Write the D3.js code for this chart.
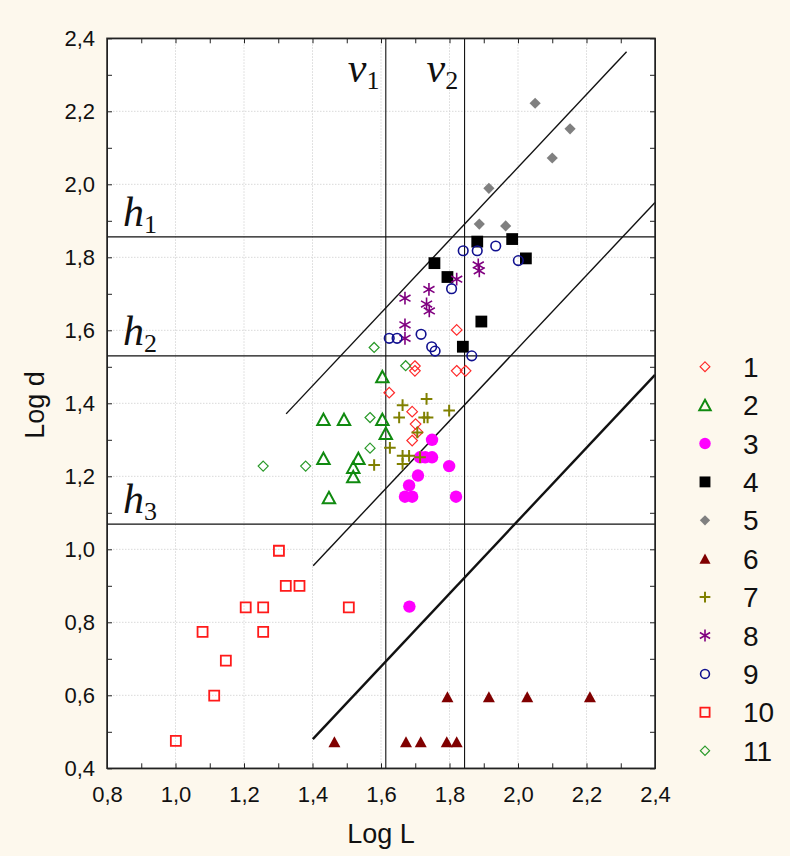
<!DOCTYPE html>
<html>
<head>
<meta charset="utf-8">
<script src="https://cdn.jsdelivr.net/npm/d3@7"></script>
<style>
  html, body { margin: 0; padding: 0; background: #fdf8ed; }
  svg { display: block; }
  text { font-family: "Liberation Sans", Arial, sans-serif; fill: #111; }
</style>
</head>
<body>
<svg id="chart" width="790" height="856"></svg>
<script>
// ---- data: [Log L, Log d] for each group ----
const s1  = [[1.821,1.601],[1.699,1.502],[1.699,1.489],[1.821,1.489],[1.847,1.489],[1.624,1.429],[1.691,1.377],[1.701,1.343],[1.707,1.321],[1.691,1.298]];
const s2  = [[1.604,1.473],[1.432,1.356],[1.492,1.356],[1.604,1.356],[1.614,1.318],[1.432,1.249],[1.534,1.249],[1.519,1.225],[1.519,1.199],[1.448,1.142]];
const s3  = [[1.749,1.300],[1.714,1.252],[1.729,1.252],[1.749,1.252],[1.799,1.228],[1.708,1.202],[1.682,1.175],[1.670,1.144],[1.691,1.144],[1.819,1.144],[1.683,0.843]];
const s4  = [[1.881,1.843],[1.983,1.850],[2.023,1.797],[1.756,1.784],[1.794,1.746],[1.893,1.624],[1.839,1.555]];
const s5  = [[2.050,2.222],[2.152,2.152],[2.100,2.072],[1.915,1.989],[1.887,1.891],[1.964,1.886]];
const s6  = [[1.464,0.473],[1.673,0.473],[1.716,0.473],[1.792,0.473],[1.821,0.473],[1.794,0.596],[1.915,0.596],[2.027,0.596],[2.210,0.596]];
const s7  = [[1.663,1.395],[1.733,1.412],[1.799,1.380],[1.653,1.361],[1.726,1.361],[1.736,1.361],[1.706,1.320],[1.626,1.278],[1.580,1.231],[1.663,1.256],[1.682,1.256],[1.663,1.234],[1.714,1.252]];
const s8  = [[1.670,1.688],[1.740,1.712],[1.733,1.672],[1.741,1.653],[1.821,1.740],[1.884,1.779],[1.887,1.763],[1.670,1.615],[1.670,1.578]];
const s9  = [[1.840,1.818],[1.881,1.818],[1.935,1.831],[2.001,1.791],[1.806,1.714],[1.624,1.578],[1.647,1.578],[1.717,1.589],[1.748,1.555],[1.758,1.543],[1.865,1.530]];
const s10 = [[1.302,0.996],[1.322,0.900],[1.362,0.900],[1.205,0.841],[1.256,0.841],[1.506,0.841],[1.079,0.774],[1.256,0.774],[1.147,0.695],[1.113,0.599],[1.001,0.475]];
const s11 = [[1.580,1.553],[1.672,1.503],[1.568,1.361],[1.568,1.277],[1.256,1.228],[1.380,1.228]];

const seriesNames = ["1","2","3","4","5","6","7","8","9","10","11"];
const seriesData  = [s1,s2,s3,s4,s5,s6,s7,s8,s9,s10,s11];

// boundary lines
const vLines = [{name:"v", sub:"1", x:1.614}, {name:"v", sub:"2", x:1.844}];
const hLines = [{name:"h", sub:"1", y:1.856}, {name:"h", sub:"2", y:1.530}, {name:"h", sub:"3", y:1.069}];
const diagLines = [
  {from:[1.323,1.371], to:[2.317,2.363], w:1.4},
  {from:[1.402,0.955], to:[2.400,1.950], w:1.4},
  {from:[1.401,0.480], to:[2.400,1.478], w:2.4}
];

const xTicks = [0.8,1.0,1.2,1.4,1.6,1.8,2.0,2.2,2.4];
const yTicks = [0.4,0.6,0.8,1.0,1.2,1.4,1.6,1.8,2.0,2.2,2.4];

// ---- symbol shapes (size = r*r) ----
const shp = {
  circle:  {draw(c,s){const r=Math.sqrt(s); c.moveTo(r,0); c.arc(0,0,r,0,2*Math.PI);}},
  square:  {draw(c,s){const r=Math.sqrt(s); c.rect(-r,-r,2*r,2*r);}},
  diamond: {draw(c,s){const r=Math.sqrt(s); c.moveTo(0,-r); c.lineTo(r,0); c.lineTo(0,r); c.lineTo(-r,0); c.closePath();}},
  triangle:{draw(c,s){const r=Math.sqrt(s), h=r*0.92; c.moveTo(0,-h); c.lineTo(r,h); c.lineTo(-r,h); c.closePath();}},
  plus:    {draw(c,s){const r=Math.sqrt(s); c.moveTo(-r,0); c.lineTo(r,0); c.moveTo(0,-r); c.lineTo(0,r);}},
  asterisk:{draw(c,s){const r=Math.sqrt(s);
    [90,30,150].forEach(a=>{const t=a*Math.PI/180, dx=r*Math.cos(t), dy=r*Math.sin(t); c.moveTo(-dx,-dy); c.lineTo(dx,dy);});}}
};

const styles = [
  {type:shp.diamond,  r:5.3, fill:"none",    stroke:"#ff2a2a", sw:1.2},
  {type:shp.triangle, r:6.2, fill:"none",    stroke:"#108a10", sw:2.0},
  {type:shp.circle,   r:6.2, fill:"#ff00ff", stroke:"none",    sw:0},
  {type:shp.square,   r:5.9, fill:"#000000", stroke:"none",    sw:0},
  {type:shp.diamond,  r:5.6, fill:"#808080", stroke:"none",    sw:0},
  {type:shp.triangle, r:6.0, fill:"#800000", stroke:"none",    sw:0},
  {type:shp.plus,     r:5.8, fill:"none",    stroke:"#808000", sw:2.0},
  {type:shp.asterisk, r:6.4, fill:"none",    stroke:"#800080", sw:1.6},
  {type:shp.circle,   r:4.8, fill:"none",    stroke:"#10108f", sw:1.6},
  {type:shp.square,   r:5.0, fill:"none",    stroke:"#ff1a1a", sw:1.8},
  {type:shp.diamond,  r:5.0, fill:"none",    stroke:"#2a9a2a", sw:1.2}
];

// ---- layout ----
const svg = d3.select("#chart");
const mLeft = 107, mRight = 655, mTop = 38.3, mBottom = 768.3;
const x = d3.scaleLinear().domain([0.8, 2.4]).range([mLeft, mRight]);
const y = d3.scaleLinear().domain([0.4, 2.4]).range([mBottom, mTop]);
const fmt = d => d3.format(".1f")(d).replace(".", ",");

// plot background
svg.append("rect").attr("x", mLeft).attr("y", mTop)
  .attr("width", mRight-mLeft).attr("height", mBottom-mTop).attr("fill", "#ffffff");

// grid
const grid = svg.append("g").attr("stroke", "#d9d9d9").attr("stroke-width", 1).attr("stroke-dasharray", "1.5,1.5");
grid.selectAll(".gx").data(xTicks.slice(1,-1)).join("line")
  .attr("x1", d=>x(d)).attr("x2", d=>x(d)).attr("y1", mTop).attr("y2", mBottom);
grid.selectAll(".gy").data(yTicks.slice(1,-1)).join("line")
  .attr("y1", d=>y(d)).attr("y2", d=>y(d)).attr("x1", mLeft).attr("x2", mRight);

// axes (inward ticks, minor every 0.1)
const minorX = d3.range(0.8, 2.4001, 0.1);
const minorY = d3.range(0.4, 2.4001, 0.1);
function tickOnly(axis){ return axis.tickFormat("").tickSizeInner(-5).tickSizeOuter(0); }
svg.append("g").attr("transform", `translate(0,${mBottom})`).call(tickOnly(d3.axisBottom(x).tickValues(minorX)));
svg.append("g").attr("transform", `translate(0,${mTop})`).call(tickOnly(d3.axisTop(x).tickValues(minorX)));
svg.append("g").attr("transform", `translate(${mLeft},0)`).call(tickOnly(d3.axisLeft(y).tickValues(minorY)));
svg.append("g").attr("transform", `translate(${mRight},0)`).call(tickOnly(d3.axisRight(y).tickValues(minorY)));

const xAxis = svg.append("g").attr("transform", `translate(0,${mBottom})`)
  .call(d3.axisBottom(x).tickValues(xTicks).tickFormat(fmt).tickSize(0).tickPadding(18));
const yAxis = svg.append("g").attr("transform", `translate(${mLeft},0)`)
  .call(d3.axisLeft(y).tickValues(yTicks).tickFormat(fmt).tickSize(0).tickPadding(12));
[xAxis, yAxis].forEach(g => {
  g.select(".domain").remove();
  g.selectAll("text").style("font-size", "22px").attr("fill", "#111");
});
svg.selectAll(".domain").attr("stroke", "#222");
svg.selectAll(".tick line").attr("stroke", "#222");

// reference lines
const ref = svg.append("g").attr("stroke", "#111").attr("fill", "none");
ref.selectAll(".v").data(vLines).join("line").attr("stroke-width", 1.1)
  .attr("x1", d=>x(d.x)).attr("x2", d=>x(d.x)).attr("y1", mTop).attr("y2", mBottom);
ref.selectAll(".h").data(hLines).join("line").attr("stroke-width", 1.1)
  .attr("x1", mLeft).attr("x2", mRight).attr("y1", d=>y(d.y)).attr("y2", d=>y(d.y));
ref.selectAll(".d").data(diagLines).join("line").attr("stroke-width", d=>d.w)
  .attr("x1", d=>x(d.from[0])).attr("y1", d=>y(d.from[1]))
  .attr("x2", d=>x(d.to[0])).attr("y2", d=>y(d.to[1]));

// line labels (italic letter with upright subscript)
function lineLabel(px, py, d){
  const t = svg.append("text").attr("x", px).attr("y", py)
    .style("font-family", "'Liberation Serif','Times New Roman',serif").style("font-size", "42px");
  t.append("tspan").style("font-style", "italic").text(d.name);
  t.append("tspan").attr("dy", 7).style("font-size", "26px").text(d.sub);
}
vLines.forEach(d => lineLabel(x(d.x) - 38, 82, d));
hLines.forEach(d => lineLabel(123, y(d.y) - 11, d));

// frame
svg.append("rect").attr("x", mLeft).attr("y", mTop)
  .attr("width", mRight-mLeft).attr("height", mBottom-mTop)
  .attr("fill", "none").attr("stroke", "#222").attr("stroke-width", 1.5);

// points
const pts = svg.append("g");
seriesData.forEach((data, i) => {
  const st = styles[i];
  const sym = d3.symbol().type(st.type).size(st.r*st.r);
  pts.append("g").selectAll("path").data(data).join("path")
    .attr("d", sym)
    .attr("transform", d => `translate(${x(d[0])},${y(d[1])})`)
    .attr("fill", st.fill).attr("stroke", st.stroke).attr("stroke-width", st.sw);
});

// legend
const leg = svg.append("g");
seriesNames.forEach((name, i) => {
  const st = styles[i];
  const ly = 366.7 + i * 38.4;
  leg.append("path").attr("d", d3.symbol().type(st.type).size(st.r*st.r*0.85))
    .attr("transform", `translate(705,${ly})`)
    .attr("fill", st.fill).attr("stroke", st.stroke).attr("stroke-width", st.sw);
  leg.append("text").attr("x", 743).attr("y", ly).attr("dy", "0.36em")
    .style("font-size", "28px").text(name);
});

// axis titles
svg.append("text").attr("x", 381).attr("y", 843).attr("text-anchor", "middle")
  .style("font-size", "27px").text("Log L");
svg.append("text").attr("transform", "translate(44,405) rotate(-90)").attr("text-anchor", "middle")
  .style("font-size", "27px").text("Log d");
</script>
</body>
</html>
